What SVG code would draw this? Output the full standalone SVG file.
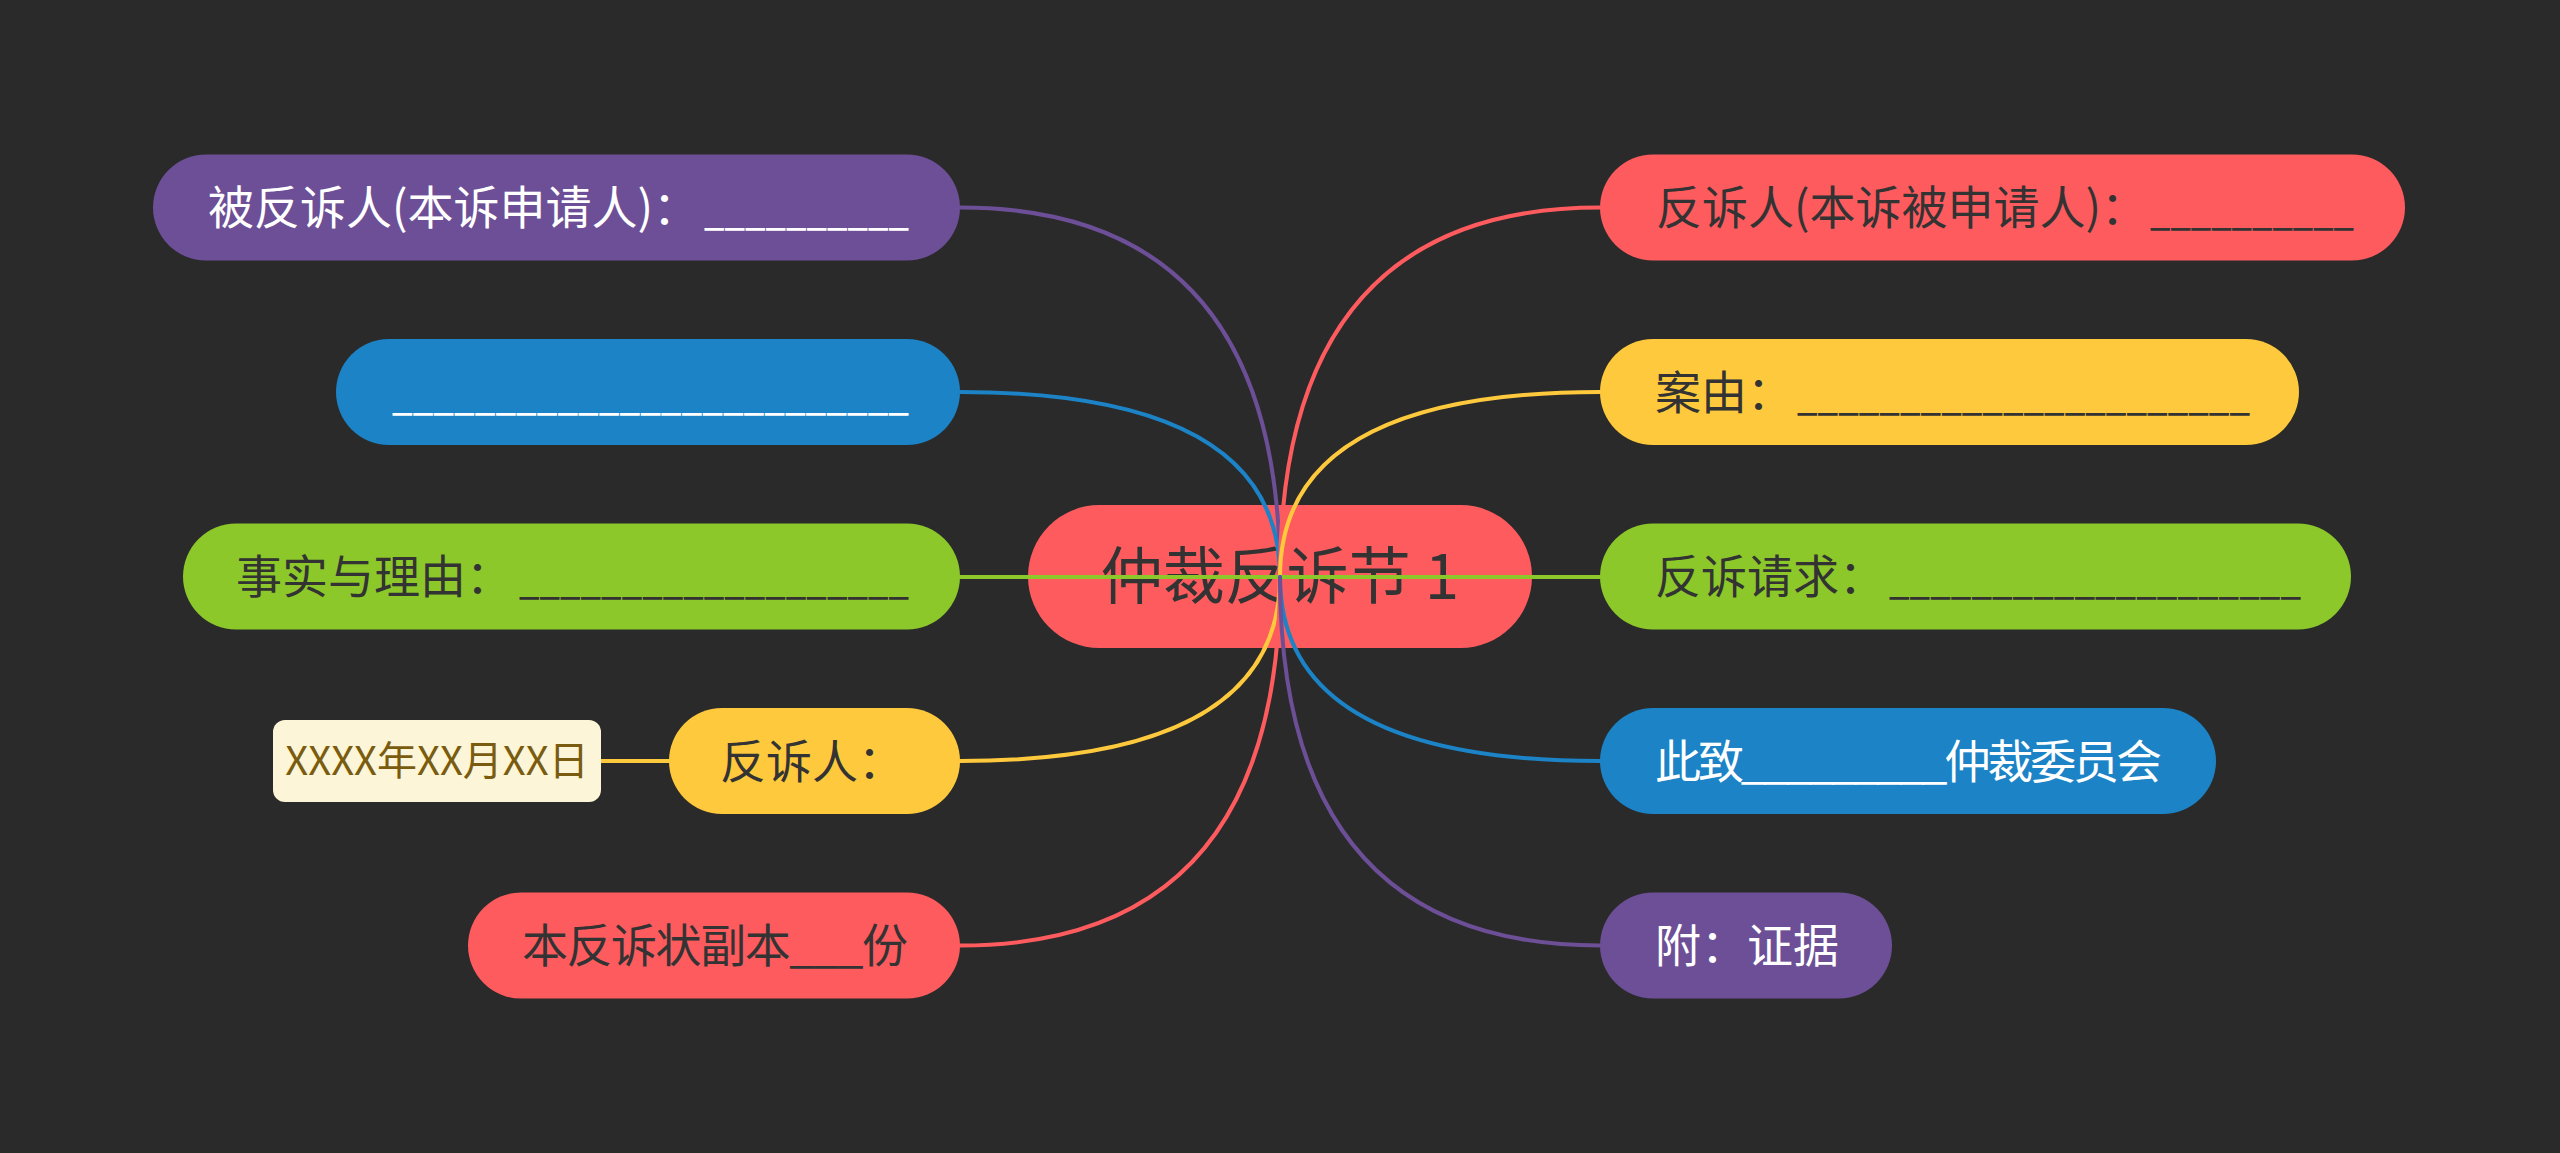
<svg xmlns="http://www.w3.org/2000/svg" width="2560" height="1153" viewBox="0 0 2560 1153">
<style>
text{font-family:"Noto Sans CJK SC","Microsoft YaHei",sans-serif;font-size:46px}
.dk{fill:#333333}
.wt{fill:#ffffff}
.conn path{fill:none;stroke-width:4;stroke-linecap:round}
.purple{fill:#6c4f96}
.blue{fill:#1b83c6}
.green{fill:#8cc82a}
.yellow{fill:#fec93c}
.red{fill:#fe5b5f}
</style>
<rect x="0" y="0" width="2560" height="1153" fill="#2a2a2a"/>
<g id="center">
<rect x="1028" y="505" width="504" height="143" rx="71.5" class="red"/>
<text x="1280" y="599" text-anchor="middle" class="dk" style="font-size:62px">仲裁反诉节 1</text>
</g>
<g id="connectors" class="conn">
<path d="M1280 577 Q1280 207.5 960 207.5" stroke="#6c4f96"/>
<path d="M1280 577 Q1280 392 960 392" stroke="#1b83c6"/>
<path d="M1280 577 L960 577" stroke="#8cc82a"/>
<path d="M1280 577 Q1280 761 960 761" stroke="#fec93c"/>
<path d="M1280 577 Q1280 945.5 960 945.5" stroke="#fe5b5f"/>
<path d="M1280 577 Q1280 207.5 1600 207.5" stroke="#fe5b5f"/>
<path d="M1280 577 Q1280 392 1600 392" stroke="#fec93c"/>
<path d="M1280 577 L1600 577" stroke="#8cc82a"/>
<path d="M1280 577 Q1280 761 1600 761" stroke="#1b83c6"/>
<path d="M1280 577 Q1280 945.5 1600 945.5" stroke="#6c4f96"/>
<path d="M601 761 L669 761" stroke="#fec93c"/>
</g>
<g id="node-l1">
<rect x="153" y="154.5" width="807" height="106" rx="53" class="purple"/>
<text y="224" class="wt"><tspan x="208">被反诉人(本诉申请人)：</tspan><tspan x="704" textLength="205" lengthAdjust="spacingAndGlyphs">__________</tspan></text>
</g>
<g id="node-l2">
<rect x="336" y="339" width="624" height="106" rx="53" class="blue"/>
<text y="409" class="wt"><tspan x="392" textLength="517" lengthAdjust="spacingAndGlyphs">_________________________</tspan></text>
</g>
<g id="node-l3">
<rect x="183" y="523.5" width="777" height="106" rx="53" class="green"/>
<text y="593" class="dk"><tspan x="236">事实与理由：</tspan><tspan x="519" textLength="390" lengthAdjust="spacingAndGlyphs">___________________</tspan></text>
</g>
<g id="node-l4">
<rect x="669" y="708" width="291" height="106" rx="53" class="yellow"/>
<text x="720" y="778" class="dk">反诉人：</text>
</g>
<g id="node-l4-date">
<rect x="273" y="720" width="328" height="82" rx="12" fill="#fdf5d7"/>
<text x="437" y="775" text-anchor="middle" fill="#7a5c10" style="font-size:40px">XXXX年XX月XX日</text>
</g>
<g id="node-l5">
<rect x="468" y="892.5" width="492" height="106" rx="53" class="red"/>
<text x="522" y="962" class="dk" textLength="386" lengthAdjust="spacing">本反诉状副本___份</text>
</g>
<g id="node-r1">
<rect x="1600" y="154.5" width="805" height="106" rx="53" class="red"/>
<text y="224" class="dk"><tspan x="1656">反诉人(本诉被申请人)：</tspan><tspan x="2150" textLength="204" lengthAdjust="spacingAndGlyphs">__________</tspan></text>
</g>
<g id="node-r2">
<rect x="1600" y="339" width="699" height="106" rx="53" class="yellow"/>
<text y="409" class="dk"><tspan x="1655">案由：</tspan><tspan x="1797" textLength="453" lengthAdjust="spacingAndGlyphs">______________________</tspan></text>
</g>
<g id="node-r3">
<rect x="1600" y="523.5" width="751" height="106" rx="53" class="green"/>
<text y="593" class="dk"><tspan x="1655">反诉请求：</tspan><tspan x="1889" textLength="412" lengthAdjust="spacingAndGlyphs">____________________</tspan></text>
</g>
<g id="node-r4">
<rect x="1600" y="708" width="616" height="106" rx="53" class="blue"/>
<text x="1655" y="778" class="wt" textLength="507" lengthAdjust="spacing">此致_________仲裁委员会</text>
</g>
<g id="node-r5">
<rect x="1600" y="892.5" width="292" height="106" rx="53" class="purple"/>
<text x="1655" y="962" class="wt">附：证据</text>
</g>
</svg>
